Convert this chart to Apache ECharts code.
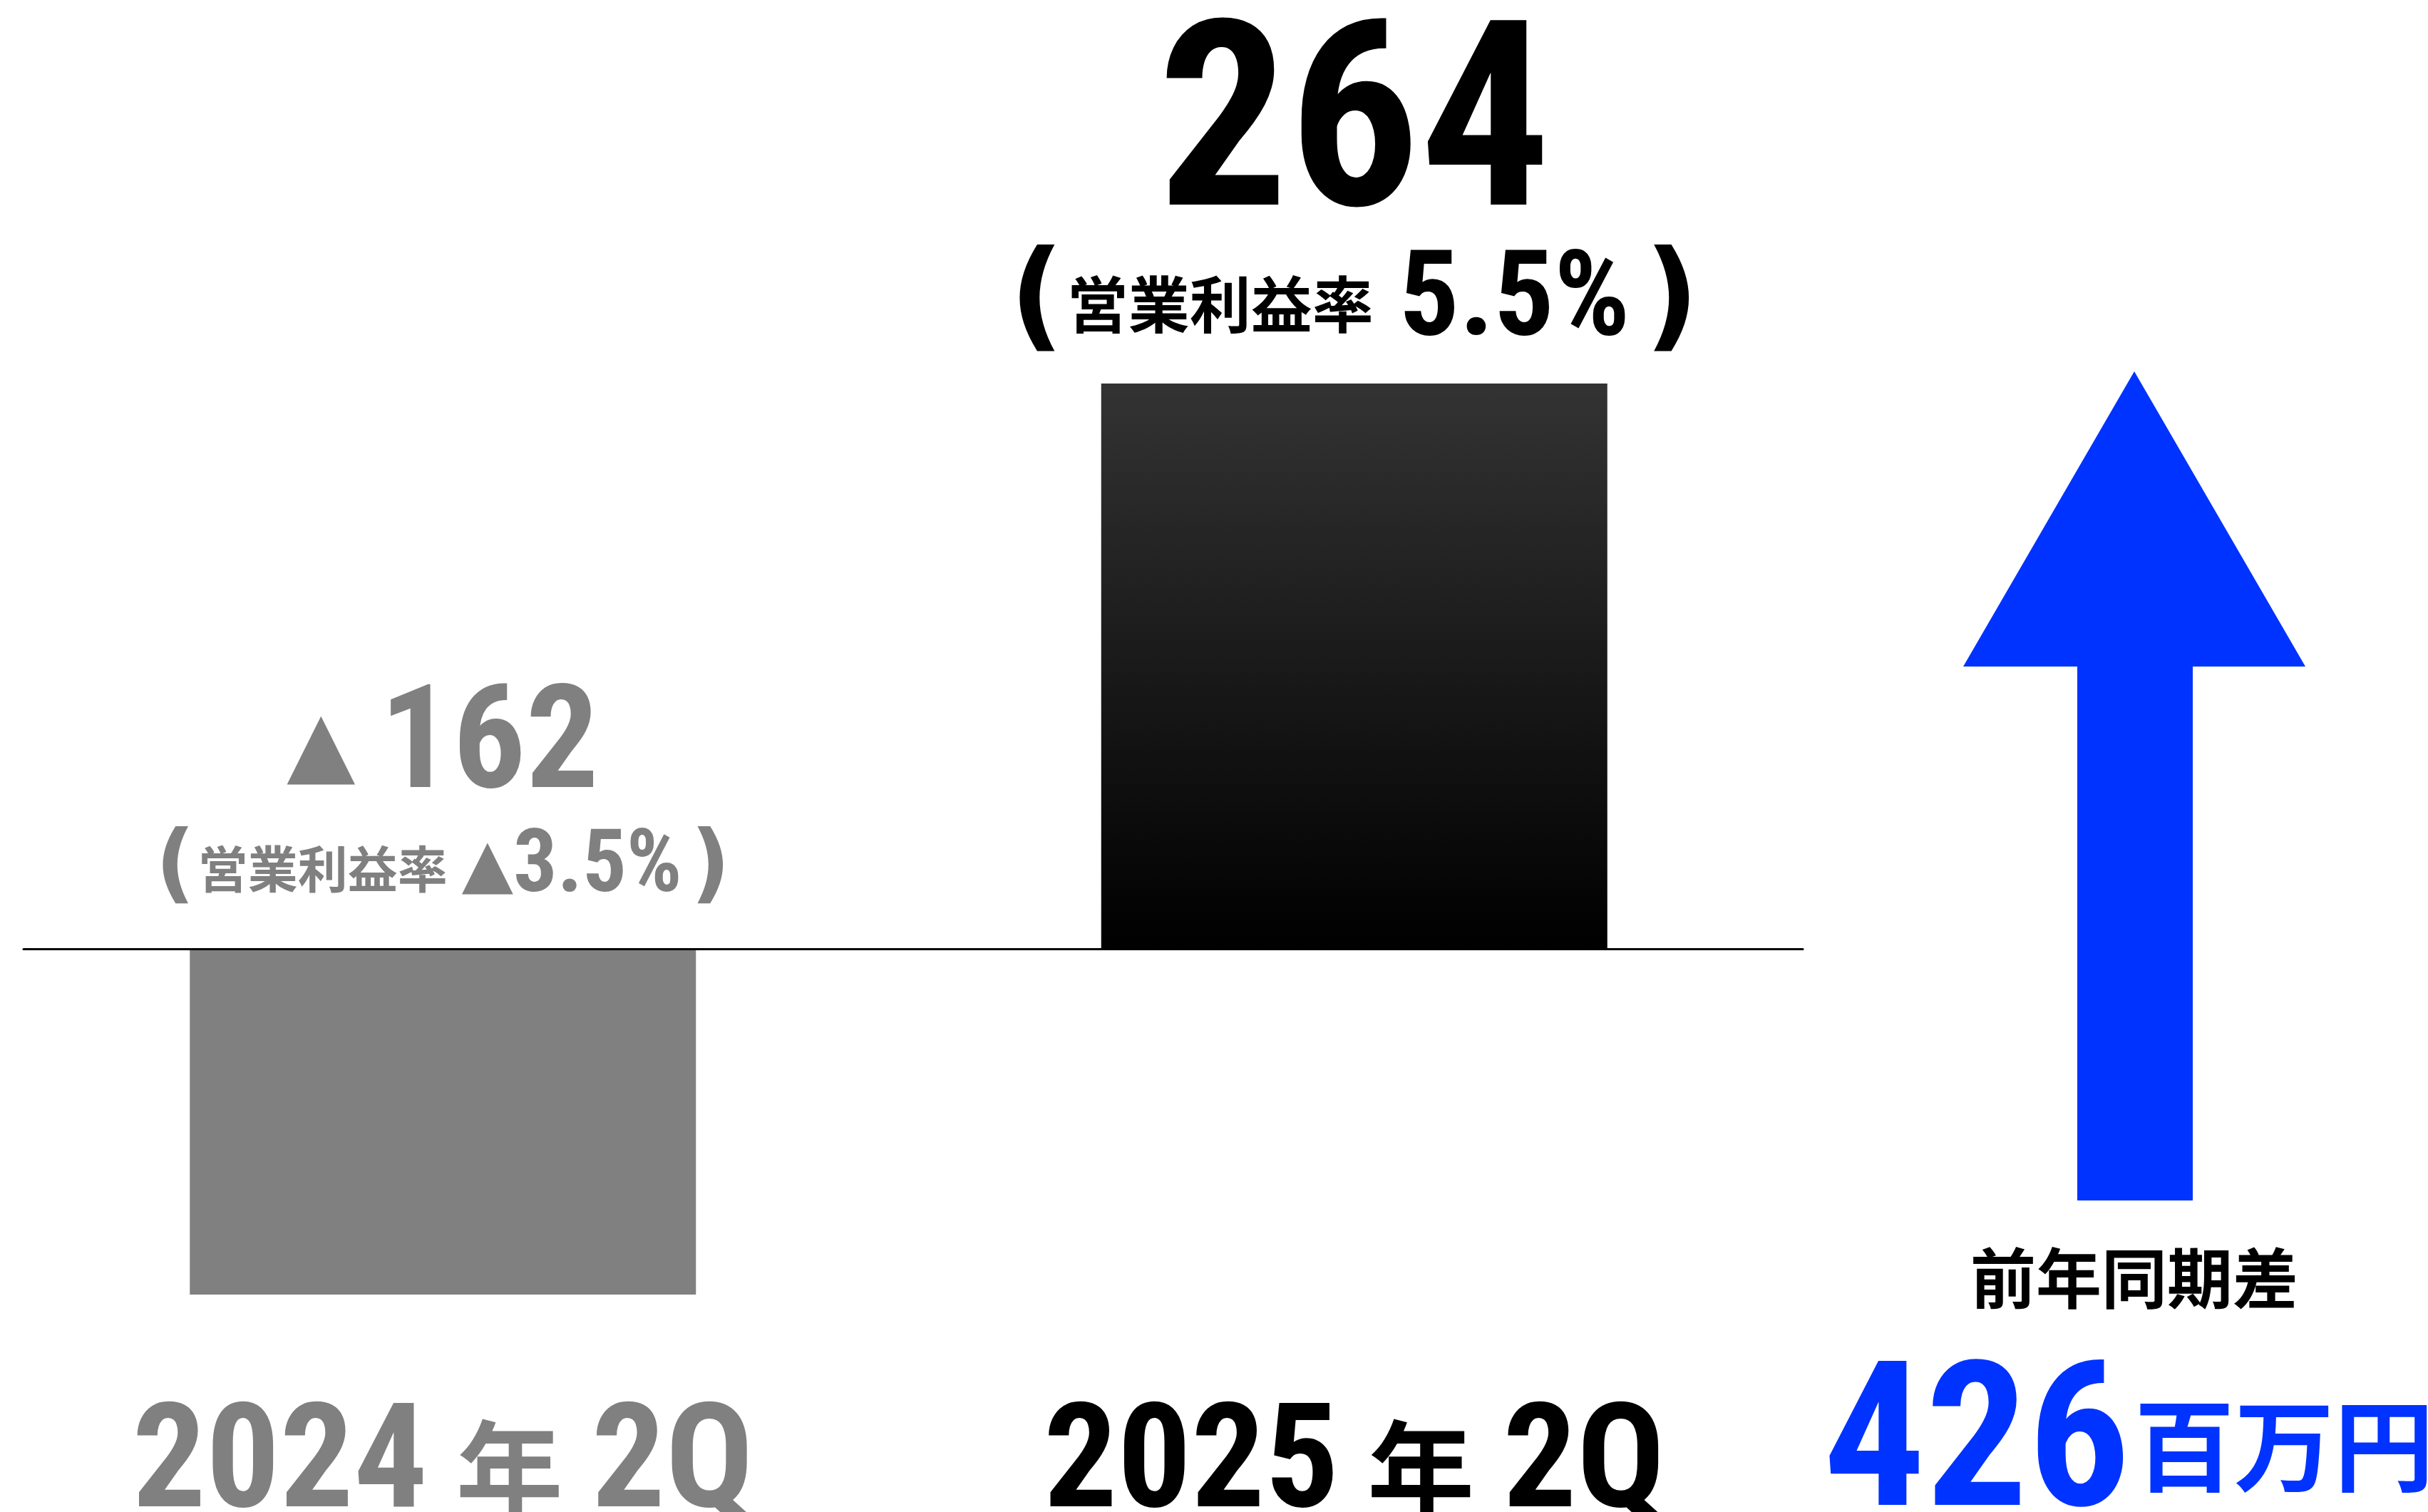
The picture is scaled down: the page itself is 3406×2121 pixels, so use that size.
<!DOCTYPE html>
<html>
<head>
<meta charset="utf-8">
<script src="https://cdn.jsdelivr.net/npm/echarts@6/dist/echarts.min.js"></script>
<style>
html,body{margin:0;padding:0;background:#fff;}
#main{width:3406px;height:2121px;}
</style>
</head>
<body>
<div id="main"></div>
<script>
// data
var categories = ['2024年2Q', '2025年2Q'];
var profitValues = [-162, 264];      // 営業利益（百万円）
var marginValues = [-3.5, 5.5];      // 営業利益率（%）
var diffLabel = '前年同期差';
var diffValue = [426];
var diffUnit = '百万円';

var NUM_FONT = '"Roboto Condensed", Roboto, sans-serif';
var JP_FONT = '"Noto Sans CJK JP", sans-serif';
var SYM_FONT = '"DejaVu Sans", sans-serif';
var GRAY = '#808080';
var BLUE = '#0033ff';

//棒の上のラベル
var barLabel = function(p){
    var v = profitValues[p.dataIndex];
    var m = marginValues[p.dataIndex];
    var k = v < 0 ? 'g' : 'b';
    var line1 = (v < 0 ? '{gTri|▲}' : '') + '{' + k + 'Big|' + Math.abs(v) + '}';
    var line2 = '{' + k + 'Par|(}{' + k + 'Jp|営業利益率}' +
        (m < 0 ? '{gTri2|▲}' : '') +
        '{' + k + 'Pct|' + Math.abs(m) + '%}{' + k + 'Par|)}';
    return line1 + '\n' + line2;
};

var blackGrad = new echarts.graphic.LinearGradient(0, 0, 0, 1, [
    {offset: 0, color: '#333333'},
    {offset: 1, color: '#000000'}
]);

var barData = profitValues.map(function(v){
    return {
        value: v,
        itemStyle: {color: v < 0 ? GRAY : blackGrad},
        label: {distance: v < 0 ? 56 : 31}
    };
});

var chart = echarts.init(document.getElementById('main'));
chart.setOption({
    animation: false,
    backgroundColor: '#ffffff',
    grid: [
        {left: 33, top: 0, width: 2496, height: 1331, outerBoundsMode: 'none'},
        {left: -18, top: 430, width: 2557, height: 1500, outerBoundsMode: 'none'},
        {left: 2754, top: 521, width: 480, height: 1163, outerBoundsMode: 'none'}
    ],
    xAxis: [
        {
            gridIndex: 0, type: 'category', data: categories, z: 5,
            axisLine: {show: true, lineStyle: {color: '#000', width: 3}},
            axisTick: {show: false}, axisLabel: {show: false}
        },
        {
            gridIndex: 1, type: 'category', data: categories,
            axisLine: {show: false, onZero: false},
            axisTick: {show: false},
            axisLabel: {
                margin: 22,
                formatter: function(value, index){
                    var k = profitValues[index] < 0 ? 'g' : 'b';
                    var parts = value.match(/^(\d+)(年)(.*)$/);
                    return '{' + k + 'D|' + parts[1] + '}{' + k + 'N|' + parts[2] + '}{' + k + 'D|' + parts[3] + '}';
                },
                rich: {
                    gD: {fontFamily: NUM_FONT, fontWeight: 'bold', fontSize: 205, lineHeight: 220, color: GRAY},
                    gN: {fontFamily: JP_FONT, fontWeight: 'bold', fontSize: 150, lineHeight: 220, color: GRAY, padding: [0, 40, 0, 40]},
                    bD: {fontFamily: NUM_FONT, fontWeight: 'bold', fontSize: 205, lineHeight: 220, color: '#000'},
                    bN: {fontFamily: JP_FONT, fontWeight: 'bold', fontSize: 150, lineHeight: 220, color: '#000', padding: [0, 40, 0, 40]}
                }
            }
        },
        {
            gridIndex: 2, type: 'category', data: [diffLabel],
            axisLine: {show: false}, axisTick: {show: false},
            axisLabel: {
                margin: 49,
                formatter: function(value){
                    return '{h|' + value + '}\n{v|' + diffValue[0] + '}{u|' + diffUnit + '}';
                },
                rich: {
                    h: {fontFamily: JP_FONT, fontWeight: 'bold', fontSize: 92, lineHeight: 120, color: '#000'},
                    v: {fontFamily: NUM_FONT, fontWeight: 'bold', fontSize: 284, lineHeight: 374, color: BLUE},
                    u: {fontFamily: JP_FONT, fontWeight: 'bold', fontSize: 140, lineHeight: 140, color: BLUE, padding: [0, 16, 24, 6]}
                }
            }
        }
    ],
    yAxis: [
        {gridIndex: 0, type: 'value', min: 0, max: 1, show: false},
        {gridIndex: 1, type: 'value', min: -200, max: 300, show: false},
        {gridIndex: 2, type: 'value', min: 0, max: diffValue[0], show: false}
    ],
    series: [
        {
            type: 'bar',
            xAxisIndex: 1,
            yAxisIndex: 1,
            barWidth: 710,
            data: barData,
            label: {
                show: true,
                position: 'top',
                formatter: barLabel,
                rich: {
                    bBig: {fontFamily: NUM_FONT, fontWeight: 'bold', fontSize: 364, lineHeight: 302, color: '#000'},
                    bPar: {fontFamily: SYM_FONT, fontWeight: 'bold', fontSize: 168, lineHeight: 160, color: '#000'},
                    bJp: {fontFamily: JP_FONT, fontWeight: 'bold', fontSize: 86, lineHeight: 160, color: '#000', padding: [0, 36, 0, 4]},
                    bPct: {fontFamily: NUM_FONT, fontWeight: 'bold', fontSize: 167, lineHeight: 160, color: '#000', padding: [0, 20, 0, 0]},
                    gTri: {fontFamily: SYM_FONT, fontSize: 125, lineHeight: 222, color: GRAY, padding: [0, 34, 0, 0]},
                    gBig: {fontFamily: NUM_FONT, fontWeight: 'bold', fontSize: 203, lineHeight: 222, color: GRAY},
                    gPar: {fontFamily: SYM_FONT, fontWeight: 'bold', fontSize: 122, lineHeight: 110, color: GRAY},
                    gJp: {fontFamily: JP_FONT, fontWeight: 'bold', fontSize: 70, lineHeight: 110, color: GRAY, padding: [0, 20, 0, 4]},
                    gTri2: {fontFamily: SYM_FONT, fontSize: 94, lineHeight: 110, color: GRAY},
                    gPct: {fontFamily: NUM_FONT, fontWeight: 'bold', fontSize: 122, lineHeight: 110, color: GRAY, padding: [0, 12, 0, 0]}
                }
            }
        },
        {
            type: 'pictorialBar',
            xAxisIndex: 2,
            yAxisIndex: 2,
            barWidth: 480,
            symbol: 'path://M240,0L480,414L322,414L322,1163L160,1163L160,414L0,414Z',
            symbolSize: [480, '100%'],
            symbolPosition: 'start',
            itemStyle: {color: BLUE},
            data: diffValue
        }
    ]
});
</script>
</body>
</html>
